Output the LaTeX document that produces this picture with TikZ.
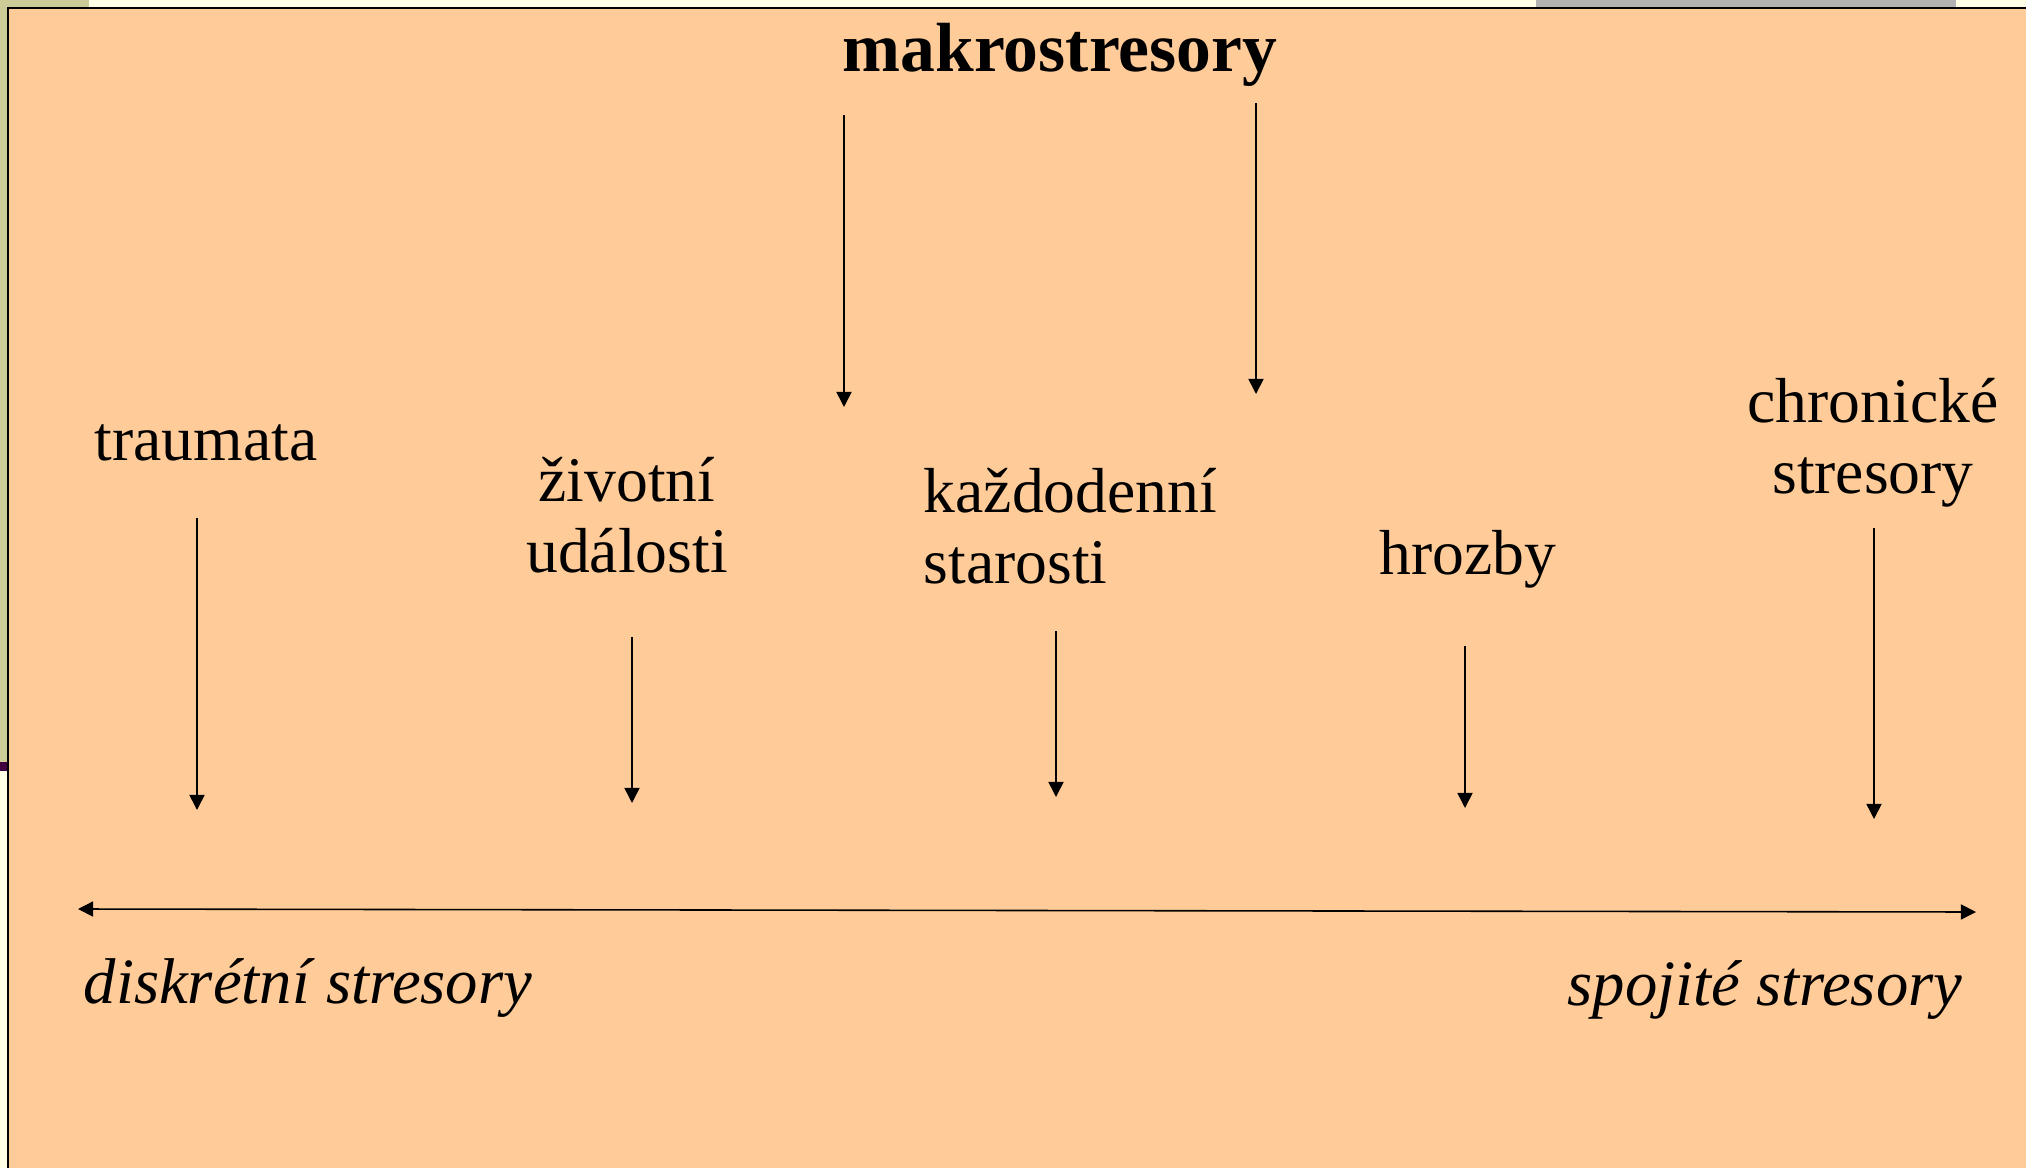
\documentclass[tikz,border=0pt]{standalone}
\usepackage{fontspec}
\setmainfont{Liberation Serif}
\usetikzlibrary{arrows.meta}

\definecolor{slideorange}{HTML}{FFCC99}
\definecolor{slidegreen}{HTML}{CCCC99}
\definecolor{slidecream}{HTML}{FFFFE6}
\definecolor{slidegray}{HTML}{B2B2B2}
\definecolor{slideplum}{HTML}{400040}

\begin{document}
\begin{tikzpicture}[
    lbl/.style={font=\fontsize{18.1}{20.2}\selectfont, inner sep=0pt, align=center},
    pole/.style={lbl, font=\fontsize{18.4}{20.2}\selectfont\itshape},
    arr/.style={-{Triangle[length=4.3pt,width=4.3pt]}, line width=0.45pt}
]
    \useasboundingbox (0,0) rectangle (20.26,11.68);

    % Slide background and frame
    \fill[slideorange] (0.07,0) rectangle (20.26,11.61);
    \fill[slidegreen] (0,11.61) rectangle (0.89,11.68);
    \fill[slidecream] (0.89,11.61) rectangle (15.36,11.68);
    \fill[slidegray] (15.36,11.61) rectangle (19.56,11.68);
    \fill[slidecream] (19.56,11.61) rectangle (20.26,11.68);
    \fill[slidegreen] (0,4.06) rectangle (0.07,11.61);
    \fill[slideplum] (0,3.97) rectangle (0.07,4.06);
    \fill[slidecream] (0,0) rectangle (0.07,3.97);
    \draw[line width=0.6pt] (0.08,0) -- (0.08,11.60) -- (20.26,11.60);

    % Labels (base = last line)
    \node[lbl, font=\fontsize{19.8}{22}\selectfont\bfseries, anchor=base] (makro) at (10.60,10.96) {makrostresory};
    \node[lbl, anchor=base] (traumata) at (2.06,7.08) {traumata};
    \node[lbl, anchor=base] (zivotni) at (6.27,5.96) {životní\\události};
    \node[lbl, anchor=base west, align=left] (kazdodenni) at (9.23,5.85) {každodenní\\starosti};
    \node[lbl, anchor=base] (hrozby) at (14.68,5.94) {hrozby};
    \node[lbl, anchor=base] (chronicke) at (18.73,6.75) {chronické\\stresory};
    \node[pole, anchor=base west] (diskretni) at (0.83,1.65) {diskrétní stresory};
    \node[pole, anchor=base east] (spojite) at (19.63,1.63) {spojité stresory};

    % Arrows down to the axis
    \foreach \n/\x/\ya/\yb in {traumata/1.97/6.50/3.58, zivotni/6.32/5.31/3.65, kazdodenni/10.56/5.37/3.71,
                               hrozby/14.65/5.22/3.60, chronicke/18.74/6.40/3.49, makroA/8.44/10.53/7.61, makroB/12.56/10.65/7.74} {
        \coordinate (\n-top) at (\x,\ya);
        \coordinate (\n-tip) at (\x,\yb);
        \draw[arr] (\n-top) -- (\n-tip);
    }

    % Axis
    \coordinate (axisL) at (0.78,2.59);
    \coordinate (axisR) at (19.76,2.56);
    \draw[arr, {Triangle[length=4.3pt,width=4.3pt]}-{Triangle[length=4.3pt,width=4.3pt]}] (axisL) -- (axisR);
\end{tikzpicture}
\end{document}
